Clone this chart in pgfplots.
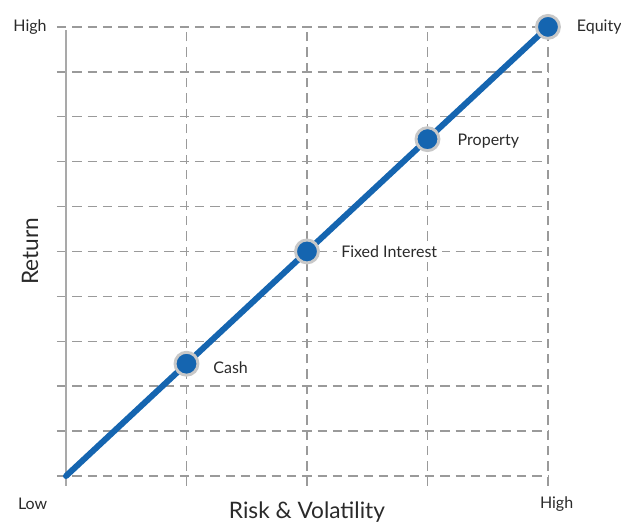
\documentclass[border=0pt]{standalone}
\usepackage{pgfplots}
\pgfplotsset{compat=1.18}
\usepackage{fontspec}
\setmainfont{Lato}
\definecolor{lineblue}{HTML}{1565B0}
\definecolor{ringgray}{HTML}{C8C8C8}
\definecolor{gridgray}{HTML}{9A9A9A}
\definecolor{txt}{HTML}{2A2A2A}
\begin{document}
\begin{tikzpicture}
% picture frame in reference pixels (1px = 0.75pt), origin at data (0,0)
\useasboundingbox (-66*0.75pt,-46*0.75pt) rectangle (555*0.75pt,476*0.75pt);
\begin{axis}[
  anchor=origin, at={(0,0)},
  scale only axis, width=368.25pt, height=344.25pt,
  xmin=-0.075, xmax=4, ymin=-0.22, ymax=10,
  axis line style={draw=none},
  major tick length=0pt,
  xtick={0,1,2,3,4}, ytick={0,1,...,10},
  xticklabels={}, yticklabels={},
  grid=major,
  grid style={gridgray, line width=1.1pt, dash pattern=on 7pt off 4.5pt},
  clip=false,
]
\draw[gridgray!85, line width=2.2pt] (axis cs:0,-0.22) -- (axis cs:0,9.93);
\addplot[lineblue, line width=4.5pt, line cap=round,
  mark=*, mark indices={2,3,4,5}, mark size=8.6pt,
  mark options={fill=lineblue, draw=ringgray, line width=2.2pt}]
  coordinates {(0,0) (1,2.5) (2,5) (3,7.5) (4,10)};
\begin{scope}[every node/.style={font=\fontsize{12pt}{14pt}\selectfont, text=txt, inner sep=0pt}]
\node[anchor=west] at ([xshift=20pt]axis cs:1,2.41) {Cash};
\node[anchor=west, fill=white, inner xsep=3.5pt, inner ysep=2pt] at ([xshift=22pt]axis cs:2,5) {Fixed Interest};
\node[anchor=west] at ([xshift=22.5pt]axis cs:3,7.46) {Property};
\node[anchor=west] at ([xshift=21.5pt]axis cs:4,10) {Equity};
\node at ([xshift=-27pt]axis cs:0,10) {High};
\node at ([xshift=-25pt, yshift=-21pt]axis cs:0,0) {Low};
\node at ([xshift=6.5pt, yshift=-21pt]axis cs:4,0) {High};
\end{scope}
\node[font=\fontsize{17pt}{20pt}\selectfont, text=txt, rotate=90] at ([xshift=-27pt]axis cs:0,5) {Return};
\node[font=\fontsize{17pt}{20pt}\selectfont, text=txt] at ([yshift=-27pt]axis cs:2,0) {Risk \& Volatility};
\end{axis}
\end{tikzpicture}
\end{document}
